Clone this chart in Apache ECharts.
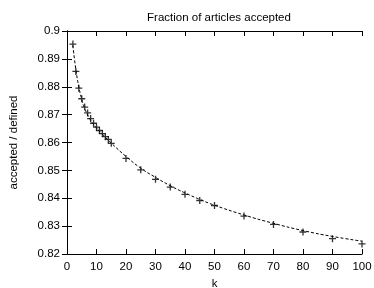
<!DOCTYPE html>
<html>
<head>
<meta charset="utf-8">
<script src="https://cdn.jsdelivr.net/npm/echarts@6/dist/echarts.min.js"></script>
<style>
  html, body { margin: 0; padding: 0; background: #fff; }
  #chart { width: 374px; height: 288px; }
</style>
</head>
<body>
<div id="chart"></div>
<script>
// measured points
const kValues = [2, 3, 4, 5, 6, 7, 8, 9, 10, 11, 12, 13, 14, 15, 20, 25, 30, 35, 40, 45, 50, 60, 70, 80, 90, 100];
const accepted = [0.8953, 0.8855, 0.8795, 0.8757, 0.8727, 0.8706, 0.8686, 0.8669, 0.8655, 0.8643, 0.8632, 0.8621, 0.8611, 0.8597,
  0.8543, 0.8502, 0.8468, 0.8440, 0.8414, 0.8392, 0.8374, 0.8336, 0.8306, 0.8279, 0.8255, 0.8236];

// dashed fit curve
const fitK = [2, 3, 4, 5, 6, 8, 10, 12, 15, 20, 25, 30, 35, 40, 45, 50, 60, 70, 80, 90, 100];
const fitVal = [0.8948, 0.8862, 0.8800, 0.8755, 0.8722, 0.8680, 0.8652, 0.8630, 0.8598, 0.8550, 0.8508, 0.8475, 0.8445,
  0.8419, 0.8396, 0.8375, 0.8340, 0.8310, 0.8284, 0.8263, 0.8246];

const font = 'Liberation Sans, Arial, sans-serif';
const plus = 'path://M0,5L10,5M5,0L5,10';

const chart = echarts.init(document.getElementById('chart'));

const tickStyle = { show: true, inside: true, length: 5, lineStyle: { color: '#000', width: 1 } };

chart.setOption({
  animation: false,
  title: {
    text: 'Fraction of articles accepted',
    left: 214, top: 7, textAlign: 'center',
    textStyle: { fontFamily: font, fontSize: 11.5, fontWeight: 'normal', color: '#000' }
  },
  grid: { left: 67, right: 12, top: 31, bottom: 34, outerBoundsMode: 'none', containLabel: false },
  xAxis: [
    {
      type: 'value', min: 0, max: 100, interval: 10,
      name: 'k', nameLocation: 'middle', nameGap: 23,
      nameTextStyle: { fontFamily: font, fontSize: 11.5, color: '#000' },
      axisLine: { lineStyle: { color: '#000', width: 1 } },
      axisTick: tickStyle,
      axisLabel: { fontFamily: font, fontSize: 11.5, color: '#000', margin: 7 },
      splitLine: { show: false }
    },
    {
      type: 'value', min: 0, max: 100, interval: 10, position: 'top',
      axisLine: { show: true, lineStyle: { color: '#000', width: 1 } },
      axisTick: tickStyle,
      axisLabel: { show: false },
      splitLine: { show: false }
    }
  ],
  yAxis: [
    {
      type: 'value', min: 0.82, max: 0.9, interval: 0.01,
      name: 'accepted / defined', nameLocation: 'middle', nameGap: 47,
      nameTextStyle: { fontFamily: font, fontSize: 11.5, color: '#000' },
      axisLine: { show: true, lineStyle: { color: '#000', width: 1 } },
      axisTick: tickStyle,
      axisLabel: {
        fontFamily: font, fontSize: 11.5, color: '#000', margin: 7,
        formatter: v => String(Math.round(v * 100) / 100)
      },
      splitLine: { show: false }
    },
    {
      type: 'value', min: 0.82, max: 0.9, interval: 0.01, position: 'right',
      axisLine: { show: true, lineStyle: { color: '#000', width: 1 } },
      axisTick: tickStyle,
      axisLabel: { show: false },
      splitLine: { show: false }
    }
  ],
  series: [
    {
      type: 'line',
      data: fitK.map((k, i) => [k, fitVal[i]]),
      smooth: true,
      showSymbol: false,
      lineStyle: { color: '#000', width: 1, type: [3, 2] },
      z: 2
    },
    {
      type: 'scatter',
      data: kValues.map((k, i) => [k, accepted[i]]),
      symbol: plus,
      symbolSize: 7,
      itemStyle: { color: 'none', borderColor: '#000', borderWidth: 1.3 },
      z: 3
    }
  ]
});
</script>
</body>
</html>
